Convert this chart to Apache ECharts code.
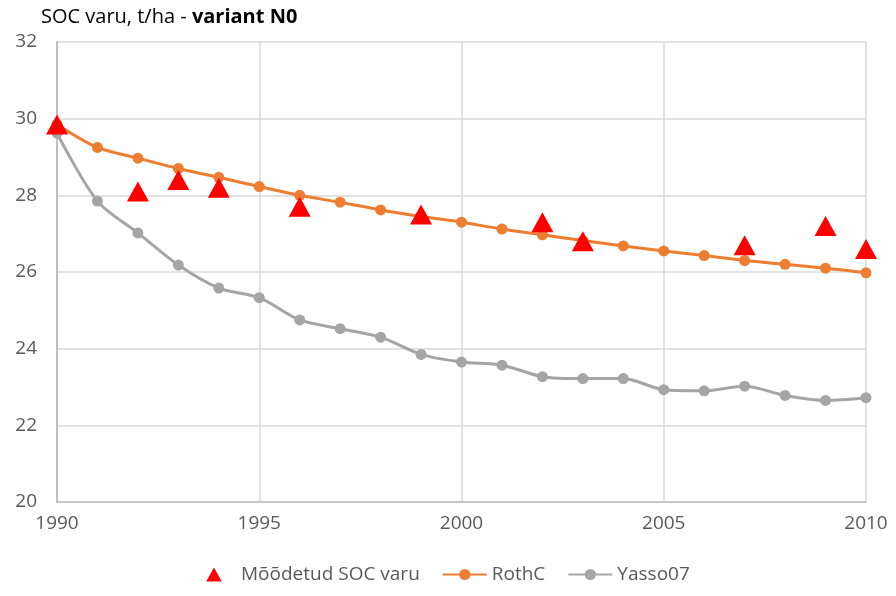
<!DOCTYPE html>
<html>
<head>
<meta charset="utf-8">
<script src="https://cdn.jsdelivr.net/npm/echarts@6/dist/echarts.min.js"></script>
<style>
  html, body { margin: 0; padding: 0; background: #fff; }
  #chart { width: 896px; height: 596px; }
</style>
</head>
<body>
<div id="chart"></div>
<script>
var years = [1990, 1991, 1992, 1993, 1994, 1995, 1996, 1997, 1998, 1999, 2000,
             2001, 2002, 2003, 2004, 2005, 2006, 2007, 2008, 2009, 2010];
var rothC = [29.85, 29.25, 28.97, 28.7, 28.47, 28.23, 28.0, 27.82, 27.62, 27.45, 27.3,
             27.12, 26.97, 26.82, 26.68, 26.55, 26.43, 26.3, 26.2, 26.1, 25.98];
var yasso07 = [29.62, 27.85, 27.02, 26.18, 25.58, 25.33, 24.75, 24.52, 24.3, 23.85, 23.65,
               23.57, 23.27, 23.22, 23.22, 22.93, 22.9, 23.02, 22.78, 22.65, 22.72];
var measuredYears = [1990, 1992, 1993, 1994, 1996, 1999, 2002, 2003, 2007, 2009, 2010];
var measured = [29.85, 28.1, 28.4, 28.2, 27.7, 27.5, 27.3, 26.8, 26.7, 27.2, 26.6];

function pairs(xs, ys) {
  return xs.map(function (x, i) { return [x, ys[i]]; });
}

var font = '"Open Sans", "Noto Sans", sans-serif';

var option = {
  animation: false,
  textStyle: { fontFamily: font },
  title: {
    left: 36,
    top: 2,
    text: '{n|SOC varu, t/ha - }{b|variant N0}',
    textStyle: {
      rich: {
        n: { fontFamily: font, fontSize: 20, color: '#000', fontWeight: 'normal' },
        b: { fontFamily: font, fontSize: 20, color: '#000', fontWeight: 'bold' }
      }
    }
  },
  legend: {
    bottom: 7,
    left: 'center',
    itemGap: 22,
    itemWidth: 44,
    itemHeight: 14,
    symbolKeepAspect: true,
    textStyle: { fontFamily: font, fontSize: 19, color: '#595959' },
    data: [
      { name: 'Mõõdetud SOC varu', icon: 'path://M5,0 L10,9 L0,9 Z', itemStyle: { color: '#ff0000' } },
      { name: 'RothC' },
      { name: 'Yasso07' }
    ]
  },
  grid: { left: 57, right: 30, top: 42, bottom: 94 },
  xAxis: {
    type: 'value',
    min: 1990,
    max: 2010,
    interval: 5,
    axisLine: { show: true, lineStyle: { color: '#bfbfbf', width: 1.5 } },
    axisTick: { show: false },
    axisLabel: {
      fontFamily: font, fontSize: 19, color: '#595959', margin: 12,
      formatter: function (v) { return String(v); }
    },
    splitLine: { show: true, lineStyle: { color: '#d9d9d9', width: 1.5 } }
  },
  yAxis: {
    type: 'value',
    min: 20,
    max: 32,
    interval: 2,
    axisLine: { show: true, lineStyle: { color: '#bfbfbf', width: 2 } },
    axisTick: { show: false },
    axisLabel: { fontFamily: font, fontSize: 19, color: '#595959', margin: 20 },
    splitLine: { show: true, lineStyle: { color: '#d9d9d9', width: 1.5 } }
  },
  series: [
    {
      name: 'Yasso07',
      type: 'line',
      data: pairs(years, yasso07),
      smooth: 0.3,
      symbol: 'circle',
      symbolSize: 11,
      lineStyle: { color: '#a5a5a5', width: 3 },
      itemStyle: { color: '#a5a5a5' },
      z: 2
    },
    {
      name: 'RothC',
      type: 'line',
      data: pairs(years, rothC),
      smooth: 0.3,
      symbol: 'circle',
      symbolSize: 11,
      lineStyle: { color: '#ed7d31', width: 3 },
      itemStyle: { color: '#ed7d31' },
      z: 3
    },
    {
      name: 'Mõõdetud SOC varu',
      type: 'scatter',
      data: pairs(measuredYears, measured),
      symbol: 'triangle',
      symbolSize: [22, 20],
      itemStyle: { color: '#ff0000', opacity: 1 },
      z: 4
    }
  ]
};

var chart = echarts.init(document.getElementById('chart'));
chart.setOption(option);
window.addEventListener('resize', function () {
  chart.resize();
});
</script>
</body>
</html>
